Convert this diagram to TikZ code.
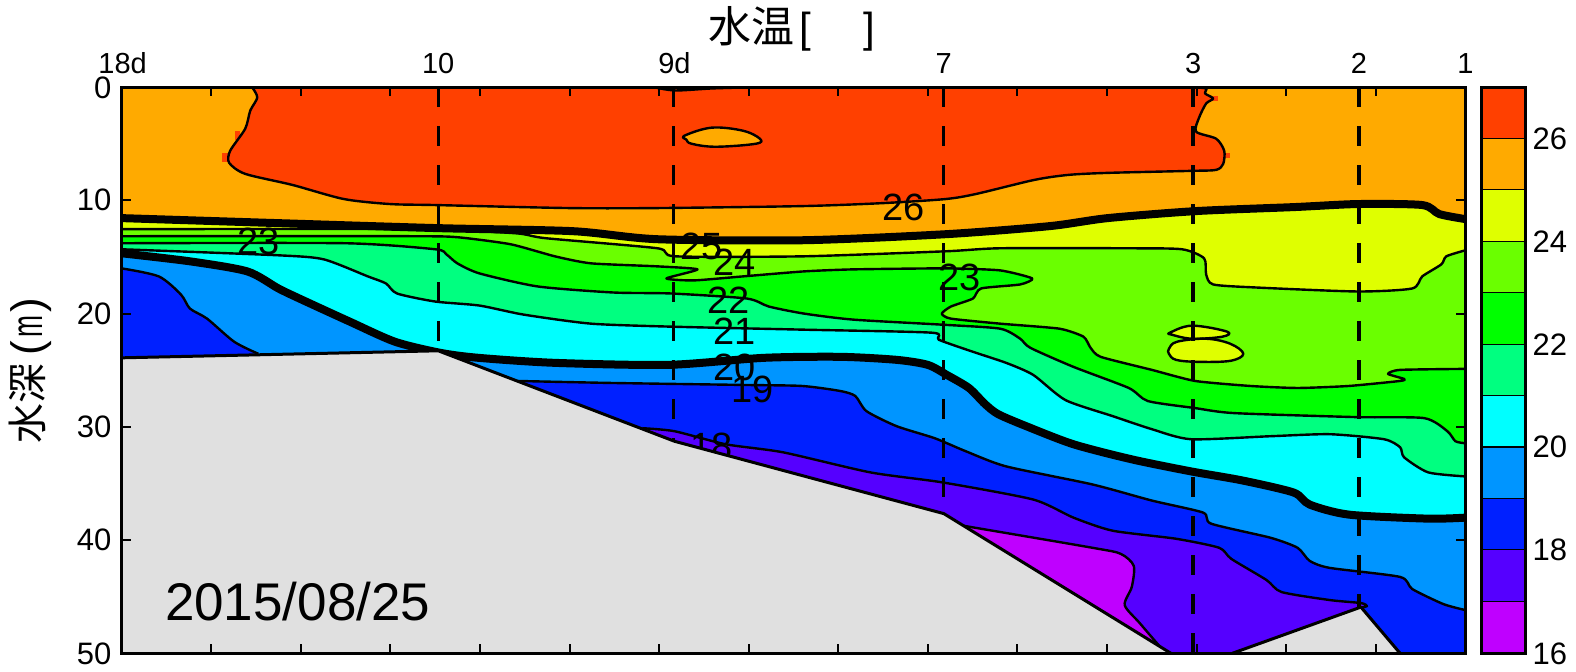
\documentclass[tikz,border=0pt]{standalone}
\usepackage{fontspec}
\setmainfont{Liberation Sans}
\newfontfamily\cjk{Noto Sans CJK JP}
\definecolor{cA}{RGB}{255,64,0}
\definecolor{cB}{RGB}{255,170,0}
\definecolor{cC}{RGB}{223,255,0}
\definecolor{cD}{RGB}{106,255,0}
\definecolor{cE}{RGB}{0,255,0}
\definecolor{cF}{RGB}{0,255,128}
\definecolor{cG}{RGB}{0,255,255}
\definecolor{cH}{RGB}{0,149,255}
\definecolor{cI}{RGB}{0,32,255}
\definecolor{cJ}{RGB}{85,0,255}
\definecolor{cK}{RGB}{191,0,255}
\definecolor{land}{RGB}{224,224,224}
\def\cvA{plot[smooth,tension=.45] coordinates {(251,87)(256,97)(249,110)(244,128)(229,150)(228,162)(244,173)(291,184)(342,198)(388,203)(433,204)(566,207)(654,207)(800,205)(880,202)(941,198)(971,193)(1029,179)(1063,174)(1102,172)(1185,170)(1210,169)(1217,163)(1218,150)(1210,138)(1190,131)(1193,117)(1200,103)(1207,98)(1199,93)(1200,88)(1188,87)}}
\def\cvLens{plot[smooth cycle,tension=.6] coordinates {(681,135)(708,127)(739,130)(756,138)(752,143)(712,146)(688,143)(683,139)}}
\def\cvTop{plot[smooth,tension=.5] coordinates {(652,87)(672,90)(708,88)(741,87)}}
\def\cvB{plot[smooth,tension=.45] coordinates {(121,217)(277,222)(437,227)(570,230)(654,238)(800,239)(941,233)(1044,225)(1102,217)(1190,210)(1288,206)(1351,203)(1415,204)(1432,213)(1458,218)}}
\def\cvC{plot[smooth,tension=.4] coordinates {(121,228)(410,228)(512,232)(543,237)(654,247)(672,255)(800,255)(941,250)(995,247)(1122,247)(1176,248)(1198,257)(1200,273)(1207,283)(1249,286)(1351,290)(1405,287)(1415,275)(1434,263)(1439,255)(1458,249)}}
\def\cvD{plot[smooth,tension=.35] coordinates {(121,235)(410,235)(455,236)(508,243)(552,255)(588,262)(654,265)(694,268)(663,277)(690,279)(739,275)(800,270)(849,268)(941,267)(995,269)(1027,277)(1015,283)(976,287)(968,297)(946,305)(937,312)(946,317)(995,322)(1054,327)(1078,335)(1085,346)(1095,355)(1146,368)(1189,379)(1244,384)(1291,386)(1342,384)(1393,379)(1397,377)(1381,372)(1393,368)(1458,367)}}
\def\cvE{plot[smooth,tension=.4] coordinates {(121,242)(344,242)(433,248)(444,253)(455,262)(477,272)(535,285)(610,291)(668,292)(743,297)(765,305)(800,312)(849,318)(937,323)(995,327)(1015,337)(1025,346)(1068,365)(1123,386)(1142,399)(1189,406)(1228,411)(1350,415)(1417,416)(1440,429)(1448,439)(1458,441)}}
\def\cvF{plot[smooth,tension=.4] coordinates {(121,248)(277,254)(322,258)(366,275)(384,282)(395,292)(433,300)(477,304)(521,313)(588,322)(668,325)(800,328)(927,331)(934,338)(968,350)(1001,361)(1028,373)(1060,398)(1107,414)(1146,427)(1185,437)(1264,434)(1323,432)(1377,437)(1393,445)(1397,455)(1421,470)(1458,474)}}
\def\cvG{plot[smooth,tension=.45] coordinates {(121,252)(189,260)(246,270)(277,287)(300,298)(348,320)(393,340)(438,351)(476,356)(552,361)(665,363)(760,356)(836,355)(892,358)(923,363)(942,373)(964,386)(980,402)(993,412)(1021,424)(1068,442)(1126,457)(1185,469)(1236,478)(1287,490)(1303,502)(1342,512)(1421,516)(1458,515)}}
\def\cvHa{plot[smooth,tension=.45] coordinates {(121,267)(158,275)(180,293)(189,307)(206,317)(233,340)(257,352)}}
\def\cvHb{plot[smooth,tension=.4] coordinates {(514,379)(608,381)(741,383)(798,384)(836,389)(851,394)(862,409)(892,424)(930,436)(961,449)(1001,464)(1087,482)(1146,498)(1197,510)(1205,521)(1264,535)(1291,545)(1303,558)(1323,565)(1393,574)(1405,586)(1436,601)(1458,607)}}
\def\cvI{plot[smooth,tension=.4] coordinates {(639,426)(671,429)(722,442)(779,450)(866,470)(938,480)(1028,497)(1068,515)(1107,528)(1170,536)(1213,545)(1225,556)(1260,577)(1275,589)(1323,597)(1354,600)(1360,603)(1352,605)}}
\def\cvJ{plot[smooth,tension=.45] coordinates {(958,523)(1087,545)(1115,551)(1128,563)(1126,584)(1119,602)(1134,620)(1158,648)}}
\def\cvP{plot[smooth cycle,tension=.6] coordinates {(1164,331)(1186,324)(1221,330)(1216,335)(1186,337)(1166,333)}}
\def\cvQ{plot[smooth cycle,tension=.6] coordinates {(1163,347)(1171,340)(1200,337)(1224,342)(1237,352)(1224,359)(1192,360)(1170,358)(1163,352)}}
\tikzset{
  thin contour/.style={draw=black,line width=2.4pt,line join=round},
  thick contour/.style={draw=black,line width=8pt,line join=round},
  sta/.style={draw=black,line width=3.2pt,dash pattern=on 20pt off 19pt},
  frame/.style={draw=black,line width=3pt},
  tick/.style={draw=black,line width=2pt},
  ax/.style={font=\fontsize{31}{31}\selectfont,inner sep=0pt},
  top/.style={font=\fontsize{29}{29}\selectfont,inner sep=0pt,anchor=base},
  lab/.style={font=\fontsize{38}{38}\selectfont,inner sep=0pt},
}
\begin{document}
\begin{tikzpicture}[x=1.0051pt,y=-1.0051pt]
\useasboundingbox (0,0) rectangle (1568,667.6);
% colour layers
\fill[cB] (121,87) rectangle (1458,650);
\fill[cA] \cvA -- cycle;
\fill[cA] (256,93) rectangle (260,102);
\fill[cA] (221,152) rectangle (227,161);
\fill[cA] (234,130) rectangle (239,139);
\fill[cA] (1207,96) rectangle (1212,100);
\fill[cA] (1212,152) rectangle (1224,157);
\fill[cB] \cvLens;
\fill[cC] \cvB -- (1458,650) -- (121,650) -- cycle;
\fill[cD] \cvC -- (1458,650) -- (121,650) -- cycle;
\fill[cC] \cvP;
\fill[cC] \cvQ;
\fill[cE] \cvD -- (1458,650) -- (121,650) -- cycle;
\fill[cF] \cvE -- (1458,650) -- (121,650) -- cycle;
\fill[cG] \cvF -- (1458,650) -- (121,650) -- cycle;
\fill[cH] \cvG -- (1458,650) -- (121,650) -- cycle;
\fill[cI] \cvHa -- (121,356) -- cycle;
\fill[cI] \cvHb -- (1458,650) -- (514,650) -- cycle;
\fill[cJ] \cvI -- (1352,650) -- (639,650) -- cycle;
\fill[cK] \cvJ -- (958,650) -- cycle;
% contours
\path[thin contour] \cvA;
\path[thin contour] \cvLens;
\path[thin contour] \cvTop;
\path[thin contour] \cvC;
\path[thin contour] \cvD;
\path[thin contour] \cvE;
\path[thin contour] \cvF;
\path[thin contour] \cvHa;
\path[thin contour] \cvHb;
\path[thin contour] \cvI;
\path[thin contour] \cvJ;
\path[thin contour] \cvP;
\path[thin contour] \cvQ;
\path[thick contour] \cvB;
\path[thick contour] \cvG;
% contour labels
\node[lab] (l26) at (899,206) {26};
\node[lab] (l23a) at (257,240) {23};
\node[lab] (l25) at (698,245) {25};
\node[lab] (l24) at (731,261) {24};
\node[lab] (l22) at (725,299) {22};
\node[lab] (l21) at (731,330) {21};
\node[lab] (l20) at (731,366) {20};
\node[lab] (l19) at (749,387) {19};
\node[lab] (l18) at (708,444) {18};
\node[lab] (l23b) at (955,276) {23};
% sea bed
\fill[land] (121,356) -- (436,349) -- (671,439) -- (939,511) -- (1165,650) -- (121,650) -- cycle;
\fill[land] (1226,650) -- (1354,604) -- (1393,650) -- cycle;
\draw[line width=3pt,line join=round] (121,356) -- (436,349) -- (671,439) -- (939,511) -- (1165,650);
\draw[line width=3pt,line join=round] (1226,650) -- (1354,604) -- (1393,650);
% stations
\draw[sta] (121,87) -- (121,356);
\draw[sta] (436,87) -- (436,349);
\draw[sta] (670,87) -- (670,438);
\draw[sta] (939,87) -- (939,511);
\draw[sta] (1187,87) -- (1187,650);
\draw[sta] (1352,87) -- (1352,604);
\draw[sta] (1458,87) -- (1458,650);
% frame and ticks
\draw[frame] (121,87) rectangle (1458,650);
\foreach \k in {1,...,14} {
  \pgfmathsetmacro{\tx}{121+89.13*\k}
  \draw[tick] (\tx,87) -- (\tx,96);
  \draw[tick] (\tx,650) -- (\tx,641);
}
\foreach \ty in {199,312,425,537} {
  \draw[tick] (121,\ty) -- (130,\ty);
  \draw[tick] (1458,\ty) -- (1449,\ty);
}
% depth labels
\node[ax,anchor=east] (d0) at (111,87) {0};
\node[ax,anchor=east] (d10) at (111,199) {10};
\node[ax,anchor=east] (d20) at (111,312) {20};
\node[ax,anchor=east] (d30) at (111,425) {30};
\node[ax,anchor=east] (d40) at (111,537) {40};
\node[ax,anchor=east] (d50) at (111,650) {50};
% station labels
\node[top] (s18) at (122,73) {18d};
\node[top] (s10) at (436,73) {10};
\node[top] (s9) at (671,73) {9d};
\node[top] (s7) at (939,73) {7};
\node[top] (s3) at (1187,73) {3};
\node[top] (s2) at (1352,73) {2};
\node[top] (s1) at (1458,73) {1};
% colour bar
\foreach \i/\c in {0/cA,1/cB,2/cC,3/cD,4/cE,5/cF,6/cG,7/cH,8/cI,9/cJ,10/cK} {
  \pgfmathsetmacro{\ya}{87+51.18*\i}
  \pgfmathsetmacro{\yb}{87+51.18*(\i+1)}
  \fill[\c] (1474,\ya) rectangle (1518,\yb);
  \draw[line width=2.2pt] (1474,\yb) -- (1518,\yb);
}
\draw[frame] (1474,87) rectangle (1518,650);
\node[ax,anchor=center] (b26) at (1542,138) {26};
\node[ax,anchor=center] (b24) at (1542,240) {24};
\node[ax,anchor=center] (b22) at (1542,343) {22};
\node[ax,anchor=center] (b20) at (1542,445) {20};
\node[ax,anchor=center] (b18) at (1542,547) {18};
\node[ax,anchor=center] (b16) at (1542,650) {16};
% titles
\node[font=\fontsize{53}{53}\selectfont,inner sep=0pt,anchor=base west] (date) at (164,617) {2015/08/25};
\node[inner sep=0pt,anchor=base west,font=\fontsize{42}{42}\selectfont] (title) at (705,42) {{\cjk\fontsize{43}{43}\selectfont 水温}\hspace{5pt}[\hspace{52pt}]};
\node[inner sep=0pt,rotate=90,font=\fontsize{44}{44}\selectfont,anchor=base west] (ylab) at (42,441) {{\cjk\fontsize{40}{40}\selectfont 水深}\hspace{8pt}(\hspace{3pt}\scalebox{.6}[1]{m}\hspace{3pt})};
\end{tikzpicture}
\end{document}
